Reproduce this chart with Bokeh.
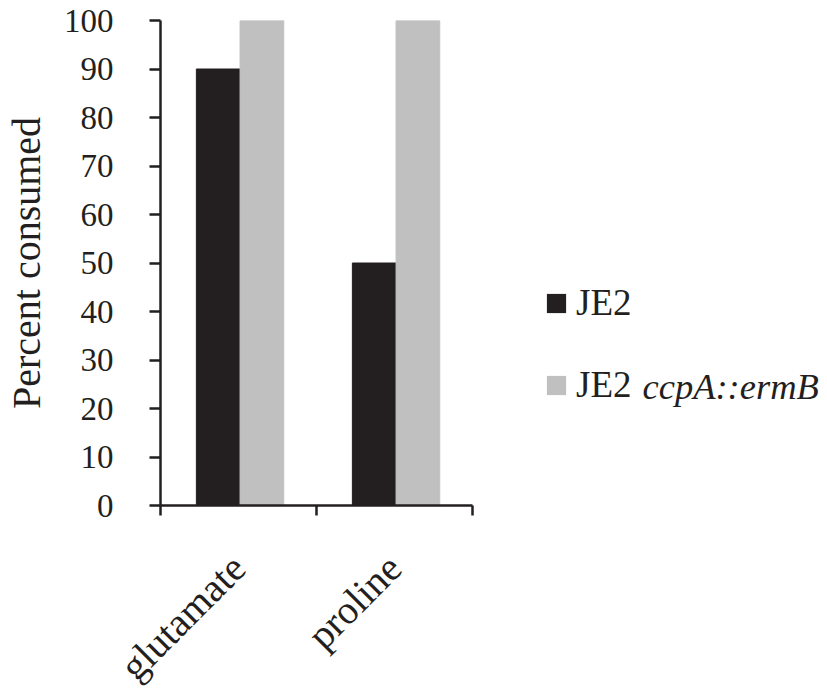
import math
from bokeh.plotting import figure
from bokeh.layouts import row
from bokeh.models import (FactorRange, Range1d, LinearAxis, CategoricalAxis, FixedTicker,
                          Legend, LegendItem, Label, ColumnDataSource)
from bokeh.transform import dodge
from bokeh.embed import file_html
from bokeh.resources import INLINE

# ---- data ----
categories = ["glutamate", "proline"]
je2 = [90, 50]
je2_ccpa = [100, 100]
y_ticks = [0, 10, 20, 30, 40, 50, 60, 70, 80, 90, 100]
series_names = ["JE2", "JE2 ccpA::ermB"]

FONT = "Liberation Serif"
TXT = "#231f20"
BLACK = "#231f20"
GRAY = "#c0c0c0"

src = ColumnDataSource(dict(cat=categories, je2=je2, ccpa=je2_ccpa))

FRAME_H = 485
TOP = 20
BOTTOM = 169

p = figure(x_range=FactorRange(*categories, range_padding=0), y_range=Range1d(0, 100),
           frame_width=312, frame_height=FRAME_H,
           min_border_left=150, min_border_top=TOP, min_border_bottom=BOTTOM, min_border_right=10,
           x_axis_location=None, toolbar_location=None, output_backend="svg",
           background_fill_color="white", border_fill_color="white")
p.outline_line_color = None
p.grid.visible = False

r1 = p.vbar(x=dodge("cat", -0.13, range=p.x_range), top="je2", width=0.28, source=src,
            fill_color=BLACK, line_color=BLACK)
r2 = p.vbar(x=dodge("cat", 0.15, range=p.x_range), top="ccpa", width=0.28, source=src,
            fill_color=GRAY, line_color=GRAY)

# y axis
ya = p.yaxis[0]
ya.ticker = FixedTicker(ticks=y_ticks)
ya.axis_label = "Percent consumed"
ya.axis_label_text_font = FONT
ya.axis_label_text_font_size = "40px"
ya.axis_label_text_font_style = "normal"
ya.axis_label_text_color = TXT
ya.axis_label_standoff = 12
ya.major_label_text_font = FONT
ya.major_label_text_font_size = "33px"
ya.major_label_text_color = TXT
ya.major_label_standoff = 36
ya.major_tick_in = 0
ya.major_tick_out = 11
ya.minor_tick_line_color = None
ya.axis_line_width = 2.5
ya.major_tick_line_width = 2.5
ya.axis_line_color = TXT
ya.major_tick_line_color = TXT

# x axis: tick marks at category boundaries (synthetic coordinates of the factor range)
edge_axis = LinearAxis(ticker=FixedTicker(ticks=list(range(len(categories) + 1))),
                       major_label_overrides={i: "" for i in range(len(categories) + 1)},
                       major_label_text_font_size="1px",
                       major_tick_in=0, major_tick_out=10, minor_tick_line_color=None,
                       axis_line_width=2.5, major_tick_line_width=2.5,
                       axis_line_color=TXT, major_tick_line_color=TXT,
                       major_label_standoff=0)
p.add_layout(edge_axis, "below")

cat_axis = CategoricalAxis(axis_line_color=None, major_tick_line_color=None,
                           major_tick_in=0, major_tick_out=0,
                           major_label_orientation=math.pi / 4,
                           major_label_text_font=FONT, major_label_text_font_size="40px",
                           major_label_text_color=TXT, major_label_standoff=46)
p.add_layout(cat_axis, "below")

# ---- legend panel (same vertical geometry as the chart) ----
# key renderers have zero width and zero height, so they draw nothing in this panel
lg = figure(x_range=FactorRange(*categories), y_range=Range1d(0, 100),
            frame_width=339, frame_height=FRAME_H,
            min_border_left=0, min_border_right=0, min_border_top=TOP, min_border_bottom=BOTTOM,
            x_axis_location=None, y_axis_location=None, toolbar_location=None,
            output_backend="svg", background_fill_color="white", border_fill_color="white")
lg.outline_line_color = None
lg.grid.visible = False
k1 = lg.vbar(x="cat", top="je2", bottom="je2", width=0, source=src,
             fill_color=BLACK, line_color=None)
k2 = lg.vbar(x="cat", top="ccpa", bottom="ccpa", width=0, source=src,
             fill_color=GRAY, line_color=None)

legend = Legend(items=[LegendItem(label=series_names[0], renderers=[k1]),
                       LegendItem(label=series_names[1].split(" ")[0], renderers=[k2])],
                location=(62, 99), orientation="vertical",
                glyph_width=24, glyph_height=24, label_standoff=8, spacing=39,
                padding=0, margin=0, border_line_color=None, background_fill_alpha=0,
                label_text_font=FONT, label_text_font_size="37px", label_text_color=TXT)
lg.add_layout(legend)

lg.add_layout(Label(x=160, y=119, x_units="screen", y_units="screen",
                    text=series_names[1].split(" ", 1)[1], text_font=FONT,
                    text_font_size="36.5px", text_font_style="italic", text_color=TXT,
                    text_baseline="alphabetic"))

layout = row(p, lg, spacing=0)
open("out.html", "w").write(file_html(layout, INLINE))
